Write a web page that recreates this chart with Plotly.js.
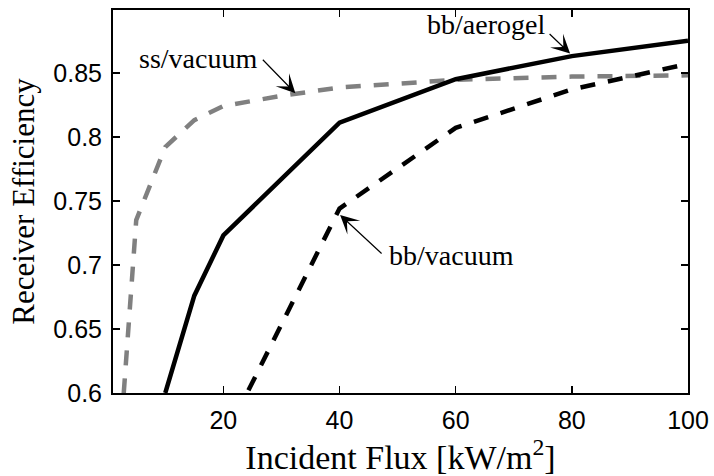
<!DOCTYPE html>
<html>
<head>
<meta charset="utf-8">
<script src="https://cdn.plot.ly/plotly-3.0.1.min.js"></script>
<style>html,body{margin:0;padding:0;background:#fff;}#chart{width:714px;height:476px;}</style>
</head>
<body>
<div id="chart"></div>
<script>
// Incident flux [kW/m^2] and receiver efficiency for each configuration
var fluxAerogel = [10, 15, 20, 40, 60, 80, 100];
var effAerogel  = [0.600, 0.676, 0.723, 0.811, 0.845, 0.863, 0.875];

var fluxBbVacuum = [20, 40, 60, 80, 100];
var effBbVacuum  = [0.563, 0.744, 0.807, 0.837, 0.857];

var fluxSsVacuum = [2.5, 5, 10, 15, 20, 30, 40, 60, 80, 100];
var effSsVacuum  = [0.578, 0.735, 0.792, 0.813, 0.824, 0.832, 0.8385, 0.8445, 0.847, 0.848];

var xTicks = [20, 40, 60, 80, 100];
var yTicks = [0.6, 0.65, 0.7, 0.75, 0.8, 0.85];
var yTickText = ["0.6", "0.65", "0.7", "0.75", "0.8", "0.85"];

var serif = "Liberation Serif, Times New Roman, serif";
var sans = "Liberation Sans, Arial, sans-serif";

var traces = [
  {x: fluxSsVacuum, y: effSsVacuum, mode: "lines", name: "ss/vacuum",
   line: {color: "#808080", width: 4.5, dash: "15px,13px"}},
  {x: fluxAerogel, y: effAerogel, mode: "lines", name: "bb/aerogel",
   line: {color: "#000000", width: 4.5}},
  {x: fluxBbVacuum, y: effBbVacuum, mode: "lines", name: "bb/vacuum",
   line: {color: "#000000", width: 4.5, dash: "15px,13px"}}
];

var axisCommon = {
  showline: true, linecolor: "#000", linewidth: 2, mirror: "ticks",
  ticks: "inside", ticklen: 7, tickwidth: 1.5, tickcolor: "#000",
  showgrid: false, zeroline: false,
  tickfont: {family: sans, size: 25, color: "#000"}
};

var arrowStyle = {arrowhead: 3, arrowsize: 2.6, arrowwidth: 1.2, arrowcolor: "#000"};

var layout = {
  width: 714, height: 476,
  margin: {l: 113, r: 26, t: 10, b: 83},
  paper_bgcolor: "#fff", plot_bgcolor: "#fff",
  showlegend: false,
  xaxis: Object.assign({}, axisCommon, {
    range: [1, 100], tickvals: xTicks, ticklabelstandoff: 4,
    title: {text: "Incident Flux [kW/m<sup>2</sup>]", font: {family: serif, size: 34, color: "#000"}, standoff: 6}
  }),
  yaxis: Object.assign({}, axisCommon, {
    range: [0.6, 0.899], tickvals: yTicks, ticktext: yTickText, ticklabelstandoff: 4,
    title: {text: "Receiver Efficiency", font: {family: serif, size: 31, color: "#000"}, standoff: 9}
  }),
  annotations: [
    Object.assign({x: 32.4, y: 0.834, xref: "x", yref: "y", text: "", showarrow: true, ax: -34, ay: -35}, arrowStyle),
    {x: 26.2, y: 0.8615, xref: "x", yref: "y", text: "ss/vacuum", showarrow: false,
     xanchor: "right", yanchor: "middle", font: {family: serif, size: 28, color: "#000"}},
    Object.assign({x: 79.7, y: 0.865, xref: "x", yref: "y", text: "", showarrow: true, ax: -22, ay: -21}, arrowStyle),
    {x: 75.7, y: 0.8873, xref: "x", yref: "y", text: "bb/aerogel", showarrow: false,
     xanchor: "right", yanchor: "middle", font: {family: serif, size: 28, color: "#000"}},
    Object.assign({x: 40.1, y: 0.739, xref: "x", yref: "y", text: "", showarrow: true, ax: 43, ay: 40}, arrowStyle),
    {x: 48.2, y: 0.7077, xref: "x", yref: "y", text: "bb/vacuum", showarrow: false,
     xanchor: "left", yanchor: "middle", font: {family: serif, size: 28, color: "#000"}}
  ]
};

Plotly.newPlot("chart", traces, layout, {displayModeBar: false, staticPlot: true});
</script>
</body>
</html>
